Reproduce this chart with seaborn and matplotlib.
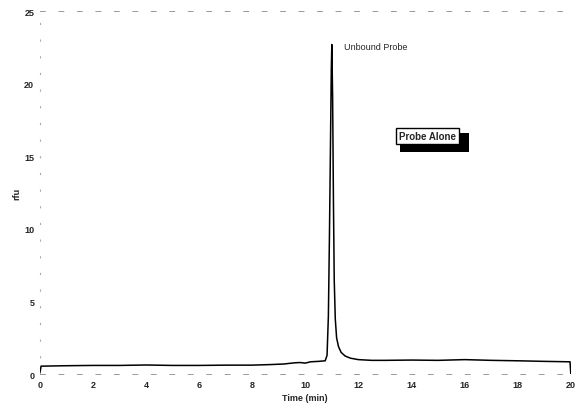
"""
Chromatogram of the probe alone (rfu vs time), redrawn with seaborn.
"""
import pandas as pd
import matplotlib.pyplot as plt
import seaborn as sns
from matplotlib.patches import Rectangle

time_min = [0.0, 0.05, 1.0, 2.0, 3.0, 4.0, 5.0, 6.0, 7.0, 8.0, 8.7, 9.2, 9.6,
            9.8, 10.0, 10.2, 10.5, 10.75, 10.82, 10.87, 10.91, 10.95, 10.98,
            11.0, 11.03, 11.06, 11.09, 11.13, 11.18, 11.25, 11.35, 11.5, 11.7,
            12.0, 12.5, 13.0, 14.0, 15.0, 16.0, 17.0, 18.0, 19.0, 19.97, 20.0]
rfu = [0.0, 0.55, 0.58, 0.6, 0.6, 0.63, 0.6, 0.6, 0.62, 0.62, 0.66, 0.7, 0.78,
       0.8, 0.76, 0.85, 0.88, 0.92, 1.3, 4.0, 9.5, 16.0, 21.0,
       22.7, 19.0, 12.0, 6.5, 3.8, 2.5, 1.9, 1.5, 1.25, 1.1,
       1.0, 0.95, 0.95, 0.97, 0.95, 1.0, 0.95, 0.92, 0.88, 0.85, 0.0]

x_ticks = [0, 2, 4, 6, 8, 10, 12, 14, 16, 18, 20]
y_ticks = [0, 5, 10, 15, 20, 25]

sns.set_style("white")
plt.rcParams["font.family"] = ["Liberation Sans", "DejaVu Sans"]

df = pd.DataFrame({"time": time_min, "rfu": rfu})

fig = plt.figure(figsize=(5.76, 4.06), dpi=100)
ax = fig.add_axes([0.069, 0.076, 0.922, 0.894])
sns.lineplot(data=df, x="time", y="rfu", sort=False, color="black",
             linewidth=1.1, ax=ax)

ax.set_xlim(0, 20)
ax.set_ylim(0, 25)
ax.set_xticks(x_ticks)
ax.set_yticks(y_ticks)
ax.tick_params(length=0, labelsize=6.5, pad=4)
for lab in ax.get_xticklabels() + ax.get_yticklabels():
    lab.set_fontweight("bold")
ax.set_xlabel("Time (min)", fontsize=6.5, fontweight="bold", labelpad=3)
ax.set_ylabel("rfu", fontsize=6.5, fontweight="bold", labelpad=2)

# faint scanned frame
for side in ["top", "bottom"]:
    ax.spines[side].set_linestyle((0, (5, 14)))
    ax.spines[side].set_color("#999999")
    ax.spines[side].set_linewidth(0.7)
ax.spines["left"].set_linestyle((0, (1, 14)))
ax.spines["left"].set_color("#aaaaaa")
ax.spines["right"].set_visible(False)

ax.text(11.45, 22.6, "Unbound Probe", fontsize=6.5, ha="left", va="center")

# boxed label with drop shadow
ax.add_patch(Rectangle((13.55, 15.3), 2.6, 1.3, facecolor="black",
                       edgecolor="none", zorder=2))
ax.text(14.6, 16.4, "Probe Alone", fontsize=7, fontweight="bold",
        ha="center", va="center", zorder=3,
        bbox=dict(boxstyle="square,pad=0.3", facecolor="white",
                  edgecolor="black", linewidth=1.0))

fig.savefig("out.png", dpi=100)
